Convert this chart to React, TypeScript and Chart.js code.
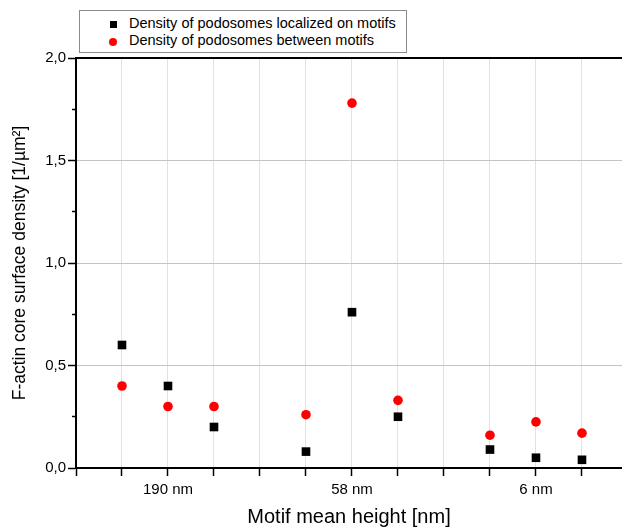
import React, { useEffect, useRef } from 'react';
import { Chart, registerables } from 'chart.js';

Chart.register(...registerables);

const FONT = '"Liberation Sans", Arial, Helvetica, sans-serif';

// Data (x = position slot on the axis)
const positions = [1, 2, 3, 5, 6, 7, 9, 10, 11];
const onMotifs = [0.6, 0.4, 0.2, 0.08, 0.76, 0.25, 0.09, 0.05, 0.04];
const betweenMotifs = [0.4, 0.3, 0.3, 0.26, 1.78, 0.33, 0.16, 0.225, 0.17];

const seriesNames = [
  'Density of podosomes localized on motifs',
  'Density of podosomes between motifs',
];

const xTickPositions = [2, 6, 10];
const xTickLabels = ['190 nm', '58 nm', '6 nm'];
const xGridValues = [0, 1, 2, 3, 4, 5, 6, 7, 8, 9, 10, 11];
const yTickValues = [0, 0.25, 0.5, 0.75, 1, 1.25, 1.5, 1.75, 2];

export default function App() {
  const ref = useRef<HTMLCanvasElement>(null);

  useEffect(() => {
    const topBorder = {
      id: 'topBorder',
      afterDraw(chart: any) {
        const { ctx, chartArea } = chart;
        ctx.save();
        ctx.strokeStyle = '#000';
        ctx.lineWidth = 2;
        ctx.beginPath();
        ctx.moveTo(chartArea.left - 1, chartArea.top);
        ctx.lineTo(chart.width, chartArea.top);
        ctx.stroke();
        ctx.restore();
      },
    };

    const chart = new Chart(ref.current as HTMLCanvasElement, {
      type: 'scatter',
      data: {
        datasets: [
          {
            label: seriesNames[0],
            data: positions.map((x, i) => ({ x, y: onMotifs[i] })),
            pointStyle: 'rect',
            pointRadius: 6.1,
            backgroundColor: '#000000',
            borderWidth: 0,
          },
          {
            label: seriesNames[1],
            data: positions.map((x, i) => ({ x, y: betweenMotifs[i] })),
            pointStyle: 'circle',
            pointRadius: 4.8,
            backgroundColor: '#ff0000',
            borderWidth: 0,
          },
        ],
      },
      options: {
        responsive: false,
        animation: false,
        layout: { autoPadding: false, padding: { top: 58, right: 0, left: 0, bottom: 0 } },
        plugins: {
          legend: { display: false },
          tooltip: { enabled: false },
        },
        scales: {
          x: {
            type: 'linear',
            min: 0,
            max: 11.87,
            afterBuildTicks: (s: any) => {
              s.ticks = xGridValues.map((v) => ({ value: v }));
            },
            afterFit: (s: any) => {
              s.height = 59;
            },
            border: { color: '#000', width: 2 },
            grid: {
              color: (c: any) => (c.tick && c.tick.value === 0 ? 'rgba(0,0,0,0)' : '#e2e2e2'),
              lineWidth: 1,
              tickColor: '#000',
              tickLength: 8,
              tickWidth: 1.5,
            },
            ticks: {
              autoSkip: false,
              maxRotation: 0,
              padding: 5,
              color: '#000',
              font: { family: FONT, size: 15 },
              callback: (v: any) => {
                const idx = xTickPositions.indexOf(Number(v));
                return idx >= 0 ? xTickLabels[idx] : '';
              },
            },
            title: {
              display: true,
              text: 'Motif mean height [nm]',
              color: '#000',
              font: { family: FONT, size: 20, lineHeight: 1 },
              padding: 0,
            },
          },
          y: {
            type: 'linear',
            min: 0,
            max: 2,
            afterBuildTicks: (s: any) => {
              s.ticks = yTickValues.map((v) => ({ value: v }));
            },
            afterFit: (s: any) => {
              s.width = 76;
            },
            border: { color: '#000', width: 2 },
            grid: {
              color: (c: any) => {
                const v = c.tick ? c.tick.value : 0;
                if (v === 0 || v === 2 || v % 0.5 !== 0) return 'rgba(0,0,0,0)';
                return '#c4c4c4';
              },
              lineWidth: 1,
              tickColor: '#000',
              tickLength: 8,
              tickWidth: 1.5,
              tickBorderDash: (c: any) => {
                const v = c.tick ? c.tick.value : 0;
                return v % 0.5 !== 0 ? [0, 4, 4] : [];
              },
            },
            ticks: {
              autoSkip: false,
              padding: 2,
              color: '#000',
              font: { family: FONT, size: 15 },
              callback: (v: any) => {
                const n = Number(v);
                return n % 0.5 === 0 ? n.toFixed(1).replace('.', ',') : '';
              },
            },
            title: {
              display: true,
              text: 'F-actin core surface density [1/\u00b5m\u00b2]',
              color: '#000',
              font: { family: FONT, size: 17.5 },
              padding: { top: 9.5, bottom: 0 },
            },
          },
        },
      },
      plugins: [topBorder],
    } as any);

    return () => chart.destroy();
  }, []);

  const textStyle: React.CSSProperties = {
    position: 'absolute',
    left: 49,
    fontFamily: FONT,
    fontSize: 14.5,
    lineHeight: '17px',
    color: '#000',
    whiteSpace: 'nowrap',
  };

  return (
    <div style={{ position: 'fixed', left: 0, top: 0, width: 622, height: 527, background: '#fff', overflow: 'hidden' }}>
      <canvas ref={ref} width={622} height={527} style={{ display: 'block' }} />
      <div
        style={{
          position: 'absolute',
          left: 79,
          top: 10,
          width: 326,
          height: 41,
          border: '1px solid #8c8c8c',
          background: '#fff',
        }}
      >
        <div
          style={{
            position: 'absolute',
            left: 33 - 3,
            top: 13 - 3,
            width: 7,
            height: 7,
            background: '#000',
          }}
        />
        <div style={{ ...textStyle, top: 4 }}>{seriesNames[0]}</div>
        <div
          style={{
            position: 'absolute',
            left: 33 - 4,
            top: 31 - 4,
            width: 8,
            height: 8,
            borderRadius: '50%',
            background: '#ff0000',
          }}
        />
        <div style={{ ...textStyle, top: 21 }}>{seriesNames[1]}</div>
      </div>
    </div>
  );
}
